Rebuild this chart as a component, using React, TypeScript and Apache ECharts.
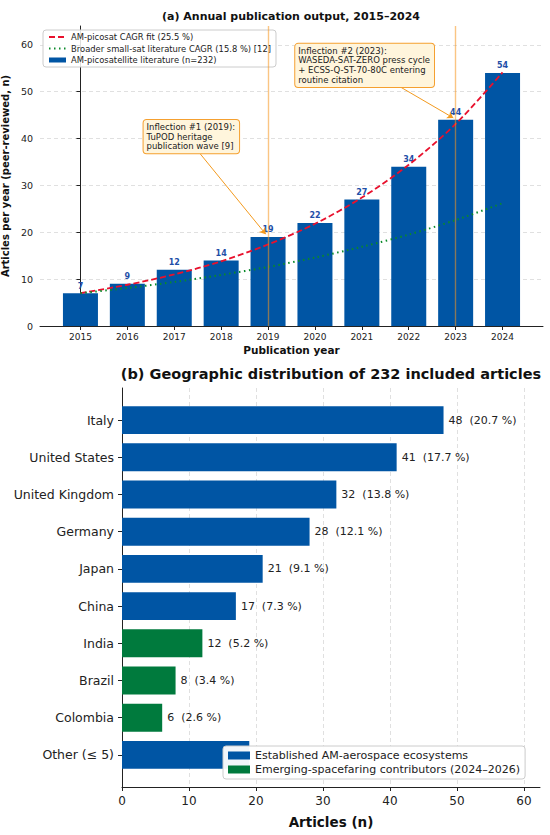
import React, { useEffect, useRef } from "react";
import * as echarts from "echarts";

const years = [2015, 2016, 2017, 2018, 2019, 2020, 2021, 2022, 2023, 2024];
const pubCounts = [7, 9, 12, 14, 19, 22, 27, 34, 44, 54];
const amFit = [7.0, 8.8, 11.0, 13.8, 17.4, 21.8, 27.4, 34.4, 43.1, 54.1];
const broadFit = [7.0, 8.1, 9.4, 10.9, 12.6, 14.6, 16.9, 19.5, 22.6, 26.2];
const inflectionYears = [2019, 2023];

const countries = [
  "Italy",
  "United States",
  "United Kingdom",
  "Germany",
  "Japan",
  "China",
  "India",
  "Brazil",
  "Colombia",
  "Other (≤ 5)",
];
const countryCounts = [48, 41, 32, 28, 21, 17, 12, 8, 6, 19];
const countryGroup = ["est", "est", "est", "est", "est", "est", "em", "em", "em", "est"];
const totalArticles = 232;

const FONT = "DejaVu Sans";
const BLUE = "#0055A4";
const GREEN = "#007A3D";
const RED = "#E8112D";
const DGREEN = "#0A8A2A";
const ORANGE = "#F39A1E";

const nameBar = "AM-picosatellite literature (n=232)";
const nameFit = "AM-picosat CAGR fit (25.5 %)";
const nameBroad = "Broader small-sat literature CAGR (15.8 %) [12]";
const nameEst = "Established AM-aerospace ecosystems";
const nameEm = "Emerging-spacefaring contributors (2024–2026)";

export default function App() {
  const ref = useRef<HTMLDivElement>(null);
  useEffect(() => {
    document.body.style.margin = "0";
    if (!ref.current) return;
    const chart = echarts.init(ref.current, null, { renderer: "svg" });
    const idx = years.map((_, i) => i);
    const gridLine = { show: true, lineStyle: { color: "#d2d2d2", width: 0.7, type: [4, 3] }, showMaxLine: false };

    const renderBar = (params: any, api: any) => {
      const v = api.value(0);
      const i = api.value(1);
      const start = api.coord([0, i]);
      const end = api.coord([v, i]);
      const h = Math.abs(api.size([0, 0.75])[1]);
      const children: any[] = [
        {
          type: "rect",
          shape: { x: start[0], y: start[1] - h / 2, width: end[0] - start[0], height: h },
          style: { fill: api.visual("color") },
        },
      ];
      if (i !== countries.length - 1) {
        children.push({
          type: "text",
          x: end[0] + 5,
          y: end[1],
          style: {
            text: `${v}\u00a0\u00a0(${((v / totalArticles) * 100).toFixed(1)} %)`,
            fill: "#222",
            fontSize: 11,
            fontFamily: FONT,
            verticalAlign: "middle",
            align: "left",
          },
        });
      }
      return { type: "group", children };
    };

    const option: any = {
      animation: false,
      textStyle: { fontFamily: FONT },
      title: [
        {
          text: "(a) Annual publication output, 2015–2024",
          left: 286,
          textAlign: "center",
          top: 6,
          textStyle: { fontSize: 11, fontWeight: "bold", color: "#111", fontFamily: FONT },
        },
        {
          text: `(b) Geographic distribution of ${totalArticles} included articles`,
          left: 326,
          textAlign: "center",
          top: 361,
          textStyle: { fontSize: 14.5, fontWeight: "bold", color: "#111", fontFamily: FONT },
        },
      ],
      legend: [
        {
          left: 43,
          top: 30,
          orient: "vertical",
          data: [
            { name: nameFit, itemStyle: { opacity: 0 } },
            { name: nameBroad, itemStyle: { opacity: 0 } },
            { name: nameBar, icon: "rect" },
          ],
          itemWidth: 17,
          itemHeight: 5,
          itemGap: 3.5,
          padding: [3, 5, 3, 5],
          textStyle: { fontSize: 8.4, color: "#222", fontFamily: FONT },
          backgroundColor: "rgba(255,255,255,0.85)",
          borderColor: "#cccccc",
          borderWidth: 1,
          borderRadius: 3,
        },
        {
          left: 223,
          top: 746,
          orient: "vertical",
          data: [
            { name: nameEst, icon: "rect", itemStyle: { color: BLUE } },
            { name: nameEm, icon: "rect", itemStyle: { color: GREEN } },
          ],
          itemWidth: 22,
          itemHeight: 8,
          itemGap: 3,
          padding: [4, 5, 4, 5],
          textStyle: { fontSize: 11, color: "#222", fontFamily: FONT },
          backgroundColor: "rgba(255,255,255,0.95)",
          borderColor: "#cccccc",
          borderWidth: 1,
          borderRadius: 3,
        },
      ],
      grid: [
        { left: 40, right: 7, top: 26, height: 300, outerBoundsMode: "none", containLabel: false },
        { left: 122, right: 10, top: 388, bottom: 48, outerBoundsMode: "none", containLabel: false },
      ],
      xAxis: [
        {
          type: "value",
          gridIndex: 0,
          min: -0.8625,
          max: 9.8625,
          axisLine: { show: true, onZero: false, lineStyle: { color: "#222", width: 1 } },
          axisTick: { show: true, customValues: idx, length: 4, lineStyle: { color: "#222" } },
          axisLabel: {
            customValues: idx,
            formatter: (v: number) => String(years[Math.round(v)]),
            fontSize: 9,
            color: "#222",
            margin: 6,
          },
          splitLine: { show: false },
          name: "Publication year",
          nameLocation: "middle",
          nameGap: 18,
          nameTextStyle: { fontSize: 10.5, fontWeight: "bold", color: "#111" },
        },
        {
          type: "value",
          gridIndex: 1,
          min: 0,
          max: 62.4,
          interval: 10,
          axisLine: { show: true, onZero: false, lineStyle: { color: "#222", width: 1 } },
          axisTick: { show: true, length: 4, lineStyle: { color: "#222" } },
          axisLabel: { fontSize: 12, color: "#222", margin: 8, showMaxLabel: false },
          splitLine: gridLine,
          name: "Articles (n)",
          nameLocation: "middle",
          nameGap: 28,
          nameTextStyle: { fontSize: 13.5, fontWeight: "bold", color: "#111" },
        },
      ],
      yAxis: [
        {
          type: "value",
          gridIndex: 0,
          min: 0,
          max: 64,
          interval: 10,
          axisLine: { show: true, lineStyle: { color: "#222", width: 1 } },
          axisTick: { show: true, length: 4, lineStyle: { color: "#222" } },
          axisLabel: { fontSize: 9.5, color: "#222", margin: 7, showMaxLabel: false },
          splitLine: gridLine,
          name: "Articles per year (peer-reviewed, n)",
          nameLocation: "middle",
          nameGap: 25,
          nameTextStyle: { fontSize: 10, fontWeight: "bold", color: "#111" },
        },
        {
          type: "value",
          gridIndex: 1,
          inverse: true,
          min: -0.8625,
          max: 9.8625,
          axisLine: { show: true, onZero: false, lineStyle: { color: "#222", width: 1 } },
          axisTick: { show: true, customValues: countries.map((_, i) => i), length: 4, lineStyle: { color: "#222" } },
          axisLabel: {
            customValues: countries.map((_, i) => i),
            formatter: (v: number) => countries[Math.round(v)],
            fontSize: 12.5,
            color: "#222",
            margin: 8,
          },
          splitLine: { show: false },
        },
      ],
      series: [
        {
          name: nameBar,
          type: "bar",
          xAxisIndex: 0,
          yAxisIndex: 0,
          barWidth: 35,
          data: years.map((_, i) => [i, pubCounts[i]]),
          itemStyle: { color: BLUE },
          label: {
            show: true,
            position: "top",
            distance: 3,
            formatter: (p: any) => String(p.value[1]),
            color: "#1F4FA8",
            fontWeight: "bold",
            fontSize: 8,
            fontFamily: FONT,
          },
          markLine: {
            silent: true,
            symbol: ["none", "none"],
            label: { show: false },
            lineStyle: { color: "rgba(245,150,30,0.55)", width: 1.4, type: "solid" },
            data: inflectionYears.map((y) => ({ xAxis: years.indexOf(y) })),
          },
        },
        {
          name: nameFit,
          type: "line",
          xAxisIndex: 0,
          yAxisIndex: 0,
          data: years.map((_, i) => [i, amFit[i]]),
          smooth: 0.3,
          symbol: "none",
          z: 4,
          lineStyle: { color: RED, width: 1.8, type: [6, 3] },
          itemStyle: { color: RED },
          markLine: {
            silent: true,
            symbol: ["none", "arrow"],
            symbolSize: 6,
            label: { show: false },
            lineStyle: { color: ORANGE, width: 1, type: "solid" },
            data: [
              [{ coord: [2.54, 36.9] }, { coord: [3.95, 19.6] }],
              [{ coord: [6.82, 51.0] }, { coord: [7.95, 44.4] }],
            ],
          },
        },
        {
          name: nameBroad,
          type: "line",
          xAxisIndex: 0,
          yAxisIndex: 0,
          data: years.map((_, i) => [i, broadFit[i]]),
          smooth: 0.3,
          symbol: "none",
          z: 4,
          lineStyle: { color: DGREEN, width: 2, type: [1.5, 3.5] },
          itemStyle: { color: DGREEN },
          markPoint: {
            silent: true,
            symbol: "rect",
            symbolSize: 1,
            itemStyle: { color: "rgba(0,0,0,0)" },
            label: {
              show: true,
              position: "inside",
              align: "left",
              verticalAlign: "middle",
              fontSize: 8.5,
              lineHeight: 9.8,
              color: "#222",
              fontFamily: FONT,
              backgroundColor: "#FFF5DC",
              borderColor: "#F5A030",
              borderWidth: 1,
              borderRadius: 3,
              padding: [2, 4, 2, 3],
            },
            data: [
              {
                coord: [1.346, 40.4],
                value: 0,
                label: { formatter: "Inflection #1 (2019):\nTuPOD heritage\npublication wave [9]" },
              },
              {
                coord: [4.58, 55.6],
                value: 0,
                label: {
                  formatter:
                    "Inflection #2 (2023):\nWASEDA-SAT-ZERO press cycle\n+ ECSS-Q-ST-70-80C entering\nroutine citation",
                },
              },
            ],
          },
        },
        {
          name: nameEst,
          type: "custom",
          xAxisIndex: 1,
          yAxisIndex: 1,
          itemStyle: { color: BLUE },
          encode: { x: 0, y: 1 },
          renderItem: renderBar,
          data: countries.map((_, i) => [countryCounts[i], i]).filter((_, i) => countryGroup[i] === "est"),
        },
        {
          name: nameEm,
          type: "custom",
          xAxisIndex: 1,
          yAxisIndex: 1,
          itemStyle: { color: GREEN },
          encode: { x: 0, y: 1 },
          renderItem: renderBar,
          data: countries.map((_, i) => [countryCounts[i], i]).filter((_, i) => countryGroup[i] === "em"),
        },
      ],
    };
    chart.setOption(option);
    return () => chart.dispose();
  }, []);
  return <div ref={ref} style={{ width: 550, height: 835 }} />;
}
